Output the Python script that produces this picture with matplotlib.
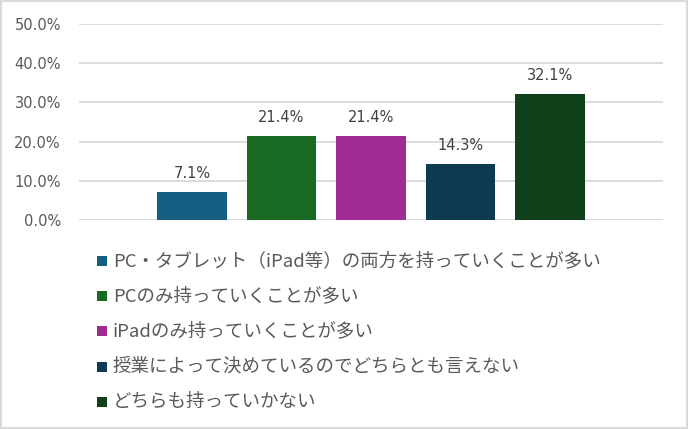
import matplotlib.pyplot as plt
from matplotlib.patches import Rectangle

plt.rcParams['font.family'] = ['DejaVu Sans', 'Noto Sans CJK JP']

labels = [
    'PC・タブレット（iPad等）の両方を持っていくことが多い',
    'PCのみ持っていくことが多い',
    'iPadのみ持っていくことが多い',
    '授業によって決めているのでどちらとも言えない',
    'どちらも持っていかない',
]
values = [0.071, 0.214, 0.214, 0.143, 0.321]
colors = ['#156082', '#196B24', '#A02B93', '#0E3A52', '#10401A']
yticks = [0.0, 0.1, 0.2, 0.3, 0.4, 0.5]

W, H = 688, 429
fig = plt.figure(figsize=(W / 100, H / 100), dpi=100)
fig.patch.set_facecolor('white')

# plot area in pixel units of the reference
ax = fig.add_axes([79 / W, 1 - 220 / H, (663 - 79) / W, (220 - 24) / H])
x = list(range(len(values)))
bars = ax.bar(x, values, width=0.78, color=colors, zorder=3)
ax.set_xlim(-1.263, len(values) - 1 + 1.263)
ax.set_ylim(0, 0.5)
ax.set_yticks(yticks)
ax.set_yticklabels([f'{v * 100:.1f}%' for v in yticks], fontsize=10.5, color='#595959')
ax.tick_params(axis='y', length=0, pad=13)
ax.set_xticks([])
ax.grid(axis='y', color='#d9d9d9', linewidth=1.3, zorder=0)
ax.set_axisbelow(True)
for s in ax.spines.values():
    s.set_visible(False)

for b, v in zip(bars, values):
    ax.annotate(f'{v * 100:.1f}%', (b.get_x() + b.get_width() / 2, v),
                xytext=(0, 13.5), textcoords='offset points',
                ha='center', va='center', fontsize=10.5, color='#404040')

# legend drawn row by row below the plot
for i, (lab, c) in enumerate(zip(labels, colors)):
    yc = 261 + 35.2 * i
    fig.patches.append(Rectangle((97 / W, 1 - (yc + 5) / H), 10 / W, 10 / H,
                                 transform=fig.transFigure, facecolor=c,
                                 edgecolor='none'))
    fig.text(113 / W, 1 - yc / H, lab, fontsize=13.3, color='#595959',
             va='center', ha='left', family=['Noto Sans CJK JP', 'DejaVu Sans'])

# outer chart border
fig.patches.append(Rectangle((1 / W, 1 / H), (W - 2) / W, (H - 2) / H,
                             transform=fig.transFigure, facecolor='none',
                             edgecolor='#d9d9d9', linewidth=1.5))

fig.savefig('out.png', dpi=100)
